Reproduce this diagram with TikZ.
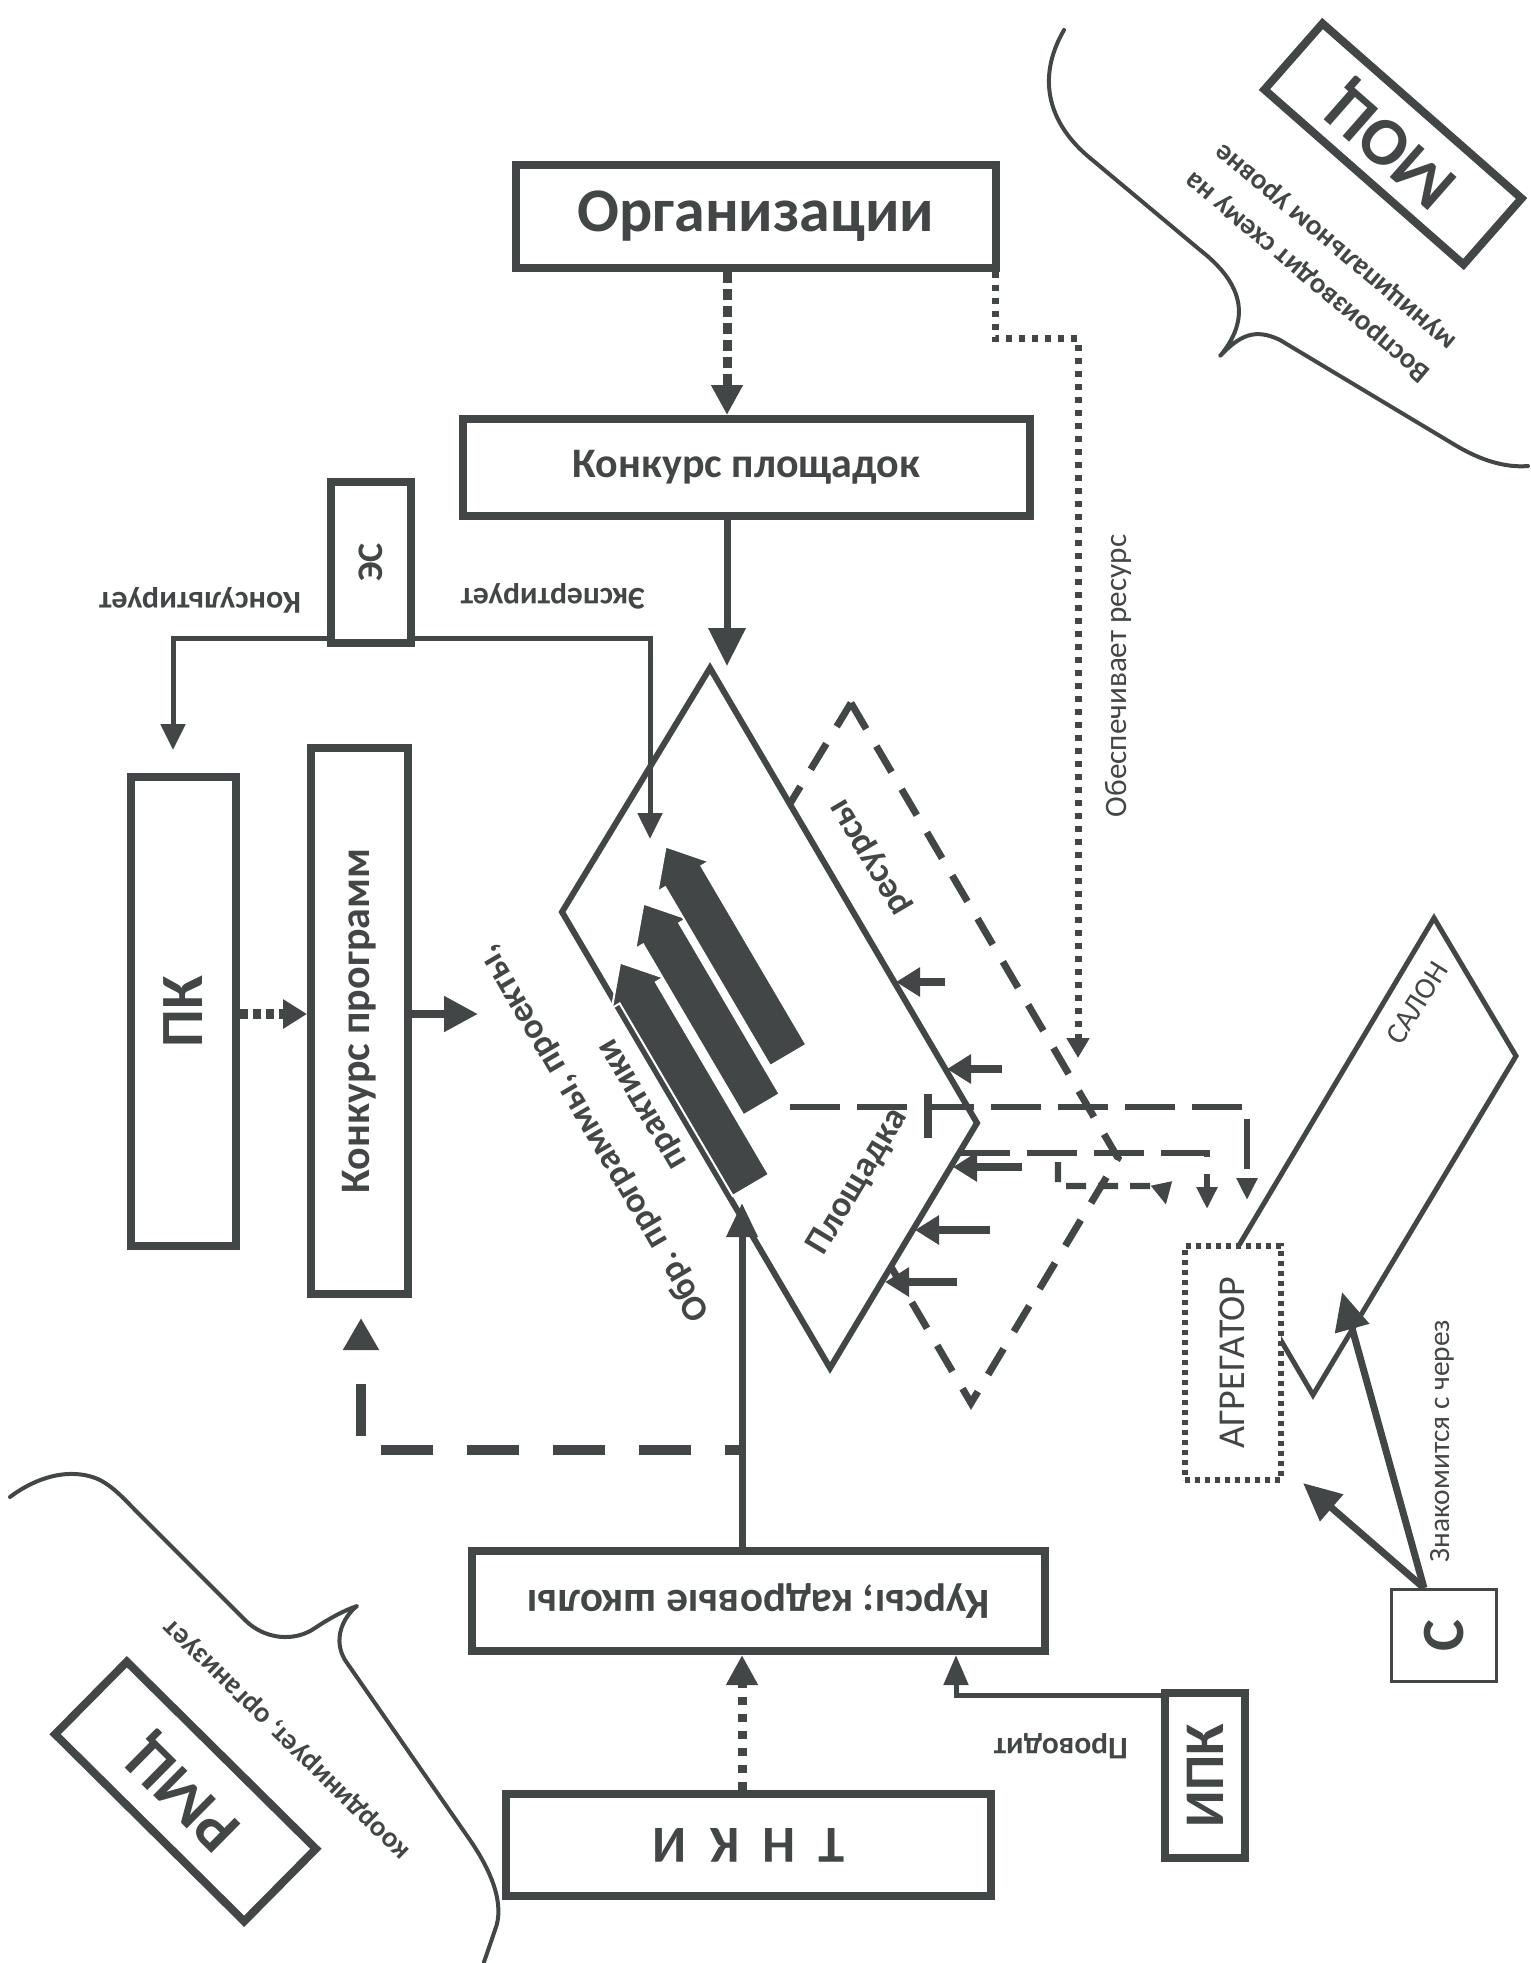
\documentclass[tikz,border=0pt]{standalone}
\usepackage{fontspec}
\usepackage{graphicx}
\setmainfont{Carlito}
\usetikzlibrary{arrows.meta,calc}
\definecolor{inkc}{RGB}{66,70,70}
\begin{document}
\begin{tikzpicture}[x=0.5pt,y=-0.5pt,
  thickbox/.style={draw=inkc, line width=4pt, fill=white, inner sep=0pt, text=inkc},
  lbl/.style={text=inkc, inner sep=0pt},
  conn/.style={draw=inkc, line cap=butt},
  curvy/.style={draw=inkc, line width=2pt, line join=round, line cap=round},
  darkbar/.style={fill=inkc, draw=white, line width=1pt},
]
\fill[white] (0,0) rectangle (1530,1963);
\useasboundingbox (0,0) rectangle (1530,1963);

% ---------- callouts ----------
\draw[curvy] (1064,30) .. controls (1035,80) and (1050,125) .. (1090,158) -- (1200,250)
  .. controls (1245,285) and (1250,320) .. (1220,356)
  .. controls (1240,335) and (1255,328) .. (1280,340) -- (1455,445)
  .. controls (1480,460) and (1505,468) .. (1528,466);
\draw[curvy] (10,1497) .. controls (35,1478) and (70,1466) .. (100,1480)
  .. controls (115,1488) and (125,1500) .. (140,1515) -- (245,1620)
  .. controls (265,1640) and (295,1642) .. (315,1628)
  .. controls (330,1618) and (345,1610) .. (357,1606)
  .. controls (342,1618) and (333,1640) .. (345,1660) -- (470,1840)
  .. controls (492,1872) and (505,1905) .. (495,1930) -- (484,1962);

\node[thickbox, rotate=138.7, minimum width=132.5pt, minimum height=44pt,
  font={\fontsize{34pt}{34pt}\selectfont\bfseries}] (moc) at (1393,144) {МОЦ};
\node[lbl, rotate=140, align=left, font={\fontsize{14.5pt}{20.5pt}\selectfont\bfseries}]
  (mocTxt) at (1321,261) {Воспроизводит схему на\\муниципальном уровне};
\node[thickbox, rotate=135.3, minimum width=133pt, minimum height=51pt,
  font={\fontsize{32pt}{32pt}\selectfont\bfseries}] (rmc) at (185.5,1791.5) {РМЦ};
\node[lbl, rotate=135.7, font={\fontsize{14.5pt}{14.5pt}\selectfont\bfseries}]
  (rmcTxt) at (288,1738) {координирует, организует};

% ---------- boxes ----------
\node[thickbox, minimum width=240pt, minimum height=51.5pt,
  font={\fontsize{31pt}{31pt}\selectfont\bfseries}] (org) at (756,216.5) {Организации};
\node[thickbox, minimum width=283.5pt, minimum height=48.5pt,
  font={\fontsize{21pt}{21pt}\selectfont\bfseries}] (konkPl) at (746.5,467.5) {Конкурс площадок};
\node[thickbox, minimum width=40pt, minimum height=80.5pt,
  font={\fontsize{18pt}{18pt}\selectfont\bfseries}] (es) at (371,562.5) {\rotatebox{90}{ЭС}};
\node[thickbox, minimum width=52.5pt, minimum height=234.5pt,
  font={\fontsize{30pt}{30pt}\selectfont\bfseries}] (pk) at (183.5,1011.5) {\rotatebox{90}{ПК}};
\node[thickbox, minimum width=48.5pt, minimum height=273pt,
  font={\fontsize{21pt}{21pt}\selectfont\bfseries}] (kp) at (359.5,1021) {\rotatebox{90}{Конкурс программ}};
\node[thickbox, minimum width=286.5pt, minimum height=50pt,
  font={\fontsize{21.5pt}{21.5pt}\selectfont\bfseries}] (kursy) at (758.5,1601) {\rotatebox{180}{Курсы; кадровые школы}};
\node[thickbox, minimum width=242.5pt, minimum height=51pt,
  font={\fontsize{26pt}{26pt}\selectfont\bfseries}] (tnki) at (748.5,1845) {\rotatebox{180}{Т\hspace{0.45em}Н\hspace{0.45em}К\hspace{0.45em}И}};
\node[thickbox, minimum width=40pt, minimum height=82.5pt,
  font={\fontsize{28pt}{28pt}\selectfont\bfseries}] (ipk) at (1205,1775.5) {\rotatebox{90}{ИПК}};
\node[thickbox, line width=1.5pt, minimum width=52.5pt, minimum height=46pt,
  font={\fontsize{30pt}{30pt}\selectfont\bfseries}] (s) at (1444,1635.5) {\rotatebox{90}{С}};

% ---------- labels ----------
\node[lbl, rotate=180, font={\fontsize{16pt}{16pt}\selectfont\bfseries}] (lKons) at (200,600) {Консультирует};
\node[lbl, rotate=180, font={\fontsize{15.8pt}{15.8pt}\selectfont\bfseries}] (lExp) at (553,596) {Экспертирует};
\node[lbl, rotate=90, font={\fontsize{15.6pt}{15.6pt}\selectfont}] (lRes) at (1118,676) {Обеспечивает ресурс};
\node[lbl, rotate=90, font={\fontsize{14.7pt}{14.7pt}\selectfont}] (lZn) at (1442,1441) {Знакомится с через};
\node[lbl, rotate=180, font={\fontsize{15.7pt}{15.7pt}\selectfont\bfseries}] (lPr) at (1061,1746) {Проводит};

% ---------- shapes ----------
\coordinate (dT) at (710,668); \coordinate (dR) at (977,1123);
\coordinate (dB) at (830,1368); \coordinate (dL) at (562,912);
\draw[inkc, line width=3.5pt, dash pattern=on 15pt off 10pt, line join=miter]
  ($(dT)+(141,35)$) -- ($(dR)+(141,35)$) -- ($(dB)+(141,35)$) -- ($(dL)+(141,35)$) -- cycle;
\draw[inkc, line width=2.5pt, line join=miter] (1434,918) -- (1516,1056) -- (1313,1395) -- (1232,1257) -- cycle;
\draw[inkc, line width=3pt, fill=white, line join=miter] (dT) -- (dR) -- (dB) -- (dL) -- cycle;

\begin{scope}[x={(0.2535pt,-0.4315pt)}, y={(0.4315pt,0.2535pt)}]
  \foreach \tip/\tail/\n in {1143/1401/47, 1104/1337/97, 1066/1308/145}{
    \path[darkbar] (\tip,\n) -- ({\tip+35},{\n+30}) -- ({\tip+35},{\n+21}) -- (\tail,{\n+21})
      -- (\tail,{\n-21}) -- ({\tip+35},{\n-21}) -- ({\tip+35},{\n-30}) -- cycle;
  }
\end{scope}

\node[lbl, rotate=120.4, align=center, font={\fontsize{18pt}{28pt}\selectfont\bfseries}]
  (obr) at (618,1119) {Обр. программы, проекты,\\практики};
\node[lbl, rotate=120.4, font={\fontsize{18pt}{18pt}\selectfont\bfseries}] (resT) at (872,856) {ресурсы};
\node[lbl, rotate=59, font={\fontsize{18pt}{18pt}\selectfont\bfseries}] (plT) at (858,1182) {Площадка};
\node[lbl, rotate=58, font={\fontsize{15pt}{15pt}\selectfont}] (salT) at (1417,1003) {САЛОН};

% ---------- connectors ----------
\coordinate (xA) at (727,0);
\draw[conn, line width=4.5pt, dash pattern=on 5.5pt off 3pt, -{Triangle[width=15pt,length=15pt]}]
  (org.south -| xA) -- (konkPl.north -| xA);
\coordinate (xR) at (995,0); \coordinate (yR) at (0,339); \coordinate (resTip) at (1078,1058);
\draw[conn, line width=3.5pt, dash pattern=on 3pt off 3.5pt, -{Triangle[width=11pt,length=10pt]}]
  (org.south -| xR) |- (resTip |- yR) -- (resTip);
\coordinate (kTip) at (727,666);
\draw[conn, line width=3.5pt, -{Triangle[width=18pt,length=19pt]}] (konkPl.south -| kTip) -- (kTip);

\coordinate (esY) at (0,638); \coordinate (pkTip) at (173,750); \coordinate (exTip) at (650,839);
\draw[conn, line width=2.5pt, -{Triangle[width=12pt,length=13pt]}] (es.west |- esY) -| (pkTip);
\draw[conn, line width=2.5pt, -{Triangle[width=12pt,length=13pt]}] (es.east |- esY) -| (exTip);

\coordinate (yM) at (0,1014); \coordinate (kpOut) at (478,1014);
\draw[conn, line width=5pt, dash pattern=on 4pt off 2.5pt, -{Triangle[width=14pt,length=12pt]}]
  (pk.east |- yM) -- (kp.west |- yM);
\draw[conn, line width=4pt, -{Triangle[width=17pt,length=17pt]}] (kp.east |- yM) -- (kpOut);

\coordinate (kIn) at (742,1203);
\draw[conn, line width=3.5pt, -{Triangle[width=15pt,length=17pt]}] (kursy.north -| kIn) -- (kIn);
\coordinate (brR) at (742,1450); \coordinate (kpTip) at (361,1318);
\draw[conn, line width=5pt, dash pattern=on 26pt off 17pt, dash phase=17.5pt, -{Triangle[width=17pt,length=16pt]}]
  (brR) -| (kpTip);

\draw[conn, line width=4.5pt, dash pattern=on 4pt off 4.5pt, -{Triangle[width=15pt,length=15pt]}]
  (tnki.north -| kIn) -- (kursy.south -| kIn);
\coordinate (yI) at (0,1695); \coordinate (xI) at (956,0);
\draw[conn, line width=2.5pt, -{Triangle[width=12pt,length=15pt]}] (ipk.west |- yI) -| (kursy.south -| xI);

% arrows into the platform
\foreach \ys/\xs/\xe in {982/945/896, 1069/1002/947, 1167/1022/953, 1230/990/915, 1282/957/885}{
  \draw[conn, line width=4pt, -{Triangle[width=14pt,length=12pt]}] (\xs,\ys) -- (\xe,\ys);
}
\draw[conn, line width=4pt] (928,1094) -- (928,1138);
\draw[conn, line width=3.2pt, dash pattern=on 25pt off 8.5pt, -{Triangle[width=10pt,length=11pt]}]
  (790,1107) -| (1247,1200);
\draw[conn, line width=3.2pt, dash pattern=on 25pt off 8.5pt, -{Triangle[width=10pt,length=11pt]}]
  (960,1153) -| (1207,1209);
\draw[conn, line width=3.2pt, dash pattern=on 10pt off 6pt, -{Triangle[width=10pt,length=11pt]}]
  (1058,1162) |- (1162,1186) -- (1166,1205);

% aggregator
\node[thickbox, line width=3pt, dash pattern=on 2.5pt off 2.5pt, minimum width=48pt, minimum height=117pt,
  font={\fontsize{19pt}{19pt}\selectfont}] (agg) at (1232.5,1362.5) {\rotatebox{90}{АГРЕГАТОР}};
\coordinate (aggTip) at (1303,1483); \coordinate (salTip) at (1342,1292);
\draw[conn, line width=3.5pt, -{Triangle[width=17pt,length=19pt]}] ($(s.north)+(-20,0)$) -- (aggTip);
\draw[conn, line width=3.5pt, -{Triangle[width=17pt,length=19pt]}] ($(s.north)+(-20,0)$) -- (salTip);
\end{tikzpicture}
\end{document}
